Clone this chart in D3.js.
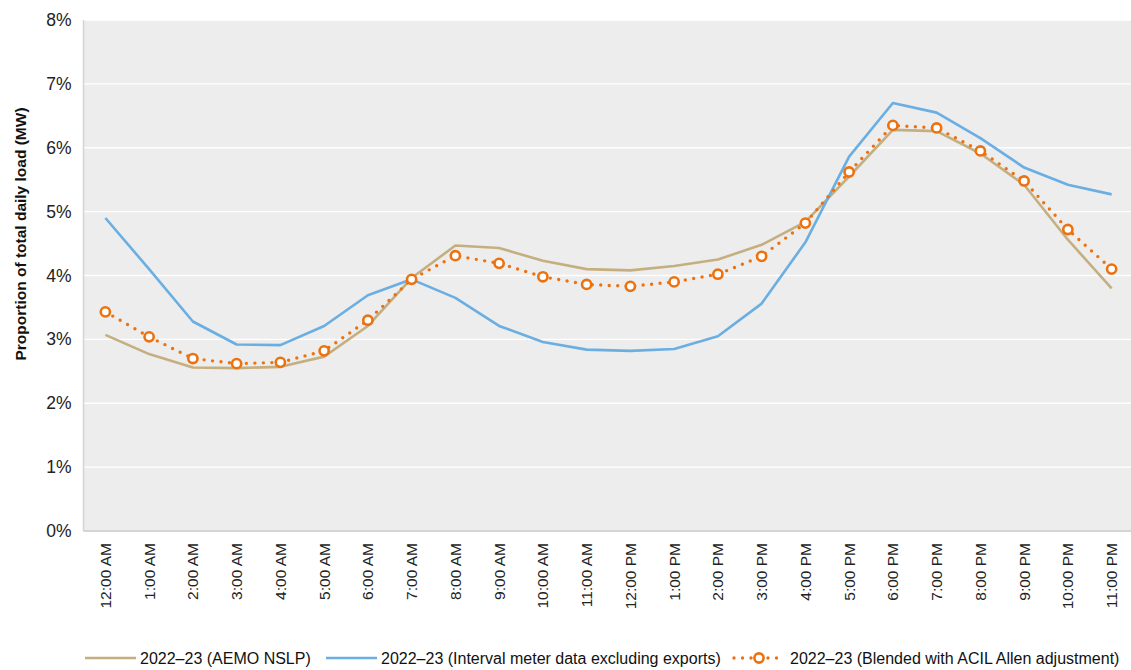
<!DOCTYPE html>
<html>
<head>
<meta charset="utf-8">
<script src="https://cdn.jsdelivr.net/npm/d3@7"></script>
<style>
  html, body { margin: 0; padding: 0; background: #fff; }
  svg { display: block; font-family: "Liberation Sans", Arial, sans-serif; }
</style>
</head>
<body>
<svg id="chart" width="1131" height="670"></svg>
<script>
const hours = ["12:00 AM","1:00 AM","2:00 AM","3:00 AM","4:00 AM","5:00 AM","6:00 AM","7:00 AM","8:00 AM","9:00 AM","10:00 AM","11:00 AM",
               "12:00 PM","1:00 PM","2:00 PM","3:00 PM","4:00 PM","5:00 PM","6:00 PM","7:00 PM","8:00 PM","9:00 PM","10:00 PM","11:00 PM"];
const aemoNslp = [3.07,2.77,2.56,2.55,2.57,2.73,3.21,3.96,4.47,4.43,4.23,4.10,4.08,4.15,4.25,4.48,4.84,5.55,6.28,6.26,5.91,5.42,4.56,3.80];
const intervalMeter = [4.90,4.10,3.28,2.92,2.91,3.21,3.69,3.94,3.65,3.21,2.96,2.84,2.82,2.85,3.05,3.56,4.52,5.86,6.70,6.55,6.15,5.69,5.42,5.27];
const blended = [3.43,3.04,2.70,2.62,2.64,2.82,3.30,3.94,4.31,4.19,3.98,3.86,3.83,3.90,4.02,4.30,4.82,5.62,6.35,6.31,5.95,5.48,4.72,4.10];
const yTicks = [0,1,2,3,4,5,6,7,8];
const seriesNames = ["2022\u201323 (AEMO NSLP)","2022\u201323 (Interval meter data excluding exports)","2022\u201323 (Blended with ACIL Allen adjustment)"];

const colors = { tan: "#c5af80", blue: "#6aaee2", orange: "#ec7210" };

const svg = d3.select("#chart");
const plot = { left: 83.5, right: 1133.5, top: 20, bottom: 531 };

const x = d3.scalePoint().domain(hours).range([plot.left, plot.right]).padding(0.5);
const y = d3.scaleLinear().domain([0, 8]).range([plot.bottom, plot.top]);

// plot background
svg.append("rect")
  .attr("x", plot.left).attr("y", plot.top)
  .attr("width", plot.right - plot.left).attr("height", plot.bottom - plot.top)
  .attr("fill", "#ededed");

// gridlines
svg.append("g").selectAll("line").data(yTicks.filter(d => d > 0)).join("line")
  .attr("x1", plot.left).attr("x2", plot.right)
  .attr("y1", d => y(d)).attr("y2", d => y(d))
  .attr("stroke", "#ffffff").attr("stroke-width", 1.3);

// axis lines
svg.append("line").attr("x1", plot.left).attr("x2", plot.left).attr("y1", plot.top).attr("y2", plot.bottom)
  .attr("stroke", "#d4d4d4").attr("stroke-width", 1.5);
svg.append("line").attr("x1", plot.left).attr("x2", plot.right).attr("y1", plot.bottom).attr("y2", plot.bottom)
  .attr("stroke", "#d4d4d4").attr("stroke-width", 2);

// y axis labels
const yAxis = d3.axisLeft(y).tickValues(yTicks).tickFormat(d => d + "%").tickSize(0).tickPadding(0);
const gy = svg.append("g").attr("transform", `translate(${plot.left - 12},0)`).call(yAxis);
gy.select(".domain").remove();
gy.selectAll("text").attr("font-size", 17.5).attr("fill", "#222").attr("font-family", "Liberation Sans, Arial, sans-serif");

// x axis labels
const xAxis = d3.axisBottom(x).tickSize(0).tickPadding(0);
const gx = svg.append("g").attr("transform", `translate(0,${plot.bottom})`).call(xAxis);
gx.select(".domain").remove();
gx.selectAll("text")
  .attr("font-size", 15.5).attr("fill", "#222").attr("font-family", "Liberation Sans, Arial, sans-serif")
  .attr("text-anchor", "end")
  .attr("dy", null)
  .attr("y", 0)
  .attr("transform", "translate(5,12) rotate(-90)");

// y axis title
svg.append("text")
  .attr("transform", "translate(26,234) rotate(-90)")
  .attr("text-anchor", "middle")
  .attr("font-size", 15.5).attr("font-weight", "bold").attr("fill", "#111")
  .text("Proportion of total daily load (MW)");

const line = d3.line().x((d, i) => x(hours[i])).y(d => y(d));

svg.append("path").datum(aemoNslp).attr("d", line)
  .attr("fill", "none").attr("stroke", colors.tan).attr("stroke-width", 2.6).attr("stroke-linejoin", "round");
svg.append("path").datum(intervalMeter).attr("d", line)
  .attr("fill", "none").attr("stroke", colors.blue).attr("stroke-width", 2.6).attr("stroke-linejoin", "round");
svg.append("path").datum(blended).attr("d", line)
  .attr("fill", "none").attr("stroke", colors.orange).attr("stroke-width", 3.4)
  .attr("stroke-dasharray", "0 8.5").attr("stroke-linecap", "round");
svg.append("g").selectAll("circle").data(blended).join("circle")
  .attr("cx", (d, i) => x(hours[i])).attr("cy", d => y(d)).attr("r", 4.6)
  .attr("fill", "#fff").attr("stroke", colors.orange).attr("stroke-width", 2.6);

// legend
const ly = 658;
const leg = svg.append("g");
leg.append("line").attr("x1", 85).attr("x2", 136).attr("y1", ly).attr("y2", ly)
  .attr("stroke", colors.tan).attr("stroke-width", 2.6);
leg.append("text").attr("x", 140).attr("y", ly + 6).attr("font-size", 16).attr("fill", "#111").text(seriesNames[0]);
leg.append("line").attr("x1", 326).attr("x2", 377).attr("y1", ly).attr("y2", ly)
  .attr("stroke", colors.blue).attr("stroke-width", 2.6);
leg.append("text").attr("x", 381).attr("y", ly + 6).attr("font-size", 16).attr("fill", "#111").text(seriesNames[1]);
leg.append("line").attr("x1", 734).attr("x2", 780).attr("y1", ly).attr("y2", ly)
  .attr("stroke", colors.orange).attr("stroke-width", 3.4)
  .attr("stroke-dasharray", "0 8.5").attr("stroke-linecap", "round");
leg.append("circle").attr("cx", 759).attr("cy", ly).attr("r", 4.6)
  .attr("fill", "#fff").attr("stroke", colors.orange).attr("stroke-width", 2.6);
leg.append("text").attr("x", 790).attr("y", ly + 6).attr("font-size", 16).attr("fill", "#111").text(seriesNames[2]);
</script>
</body>
</html>
